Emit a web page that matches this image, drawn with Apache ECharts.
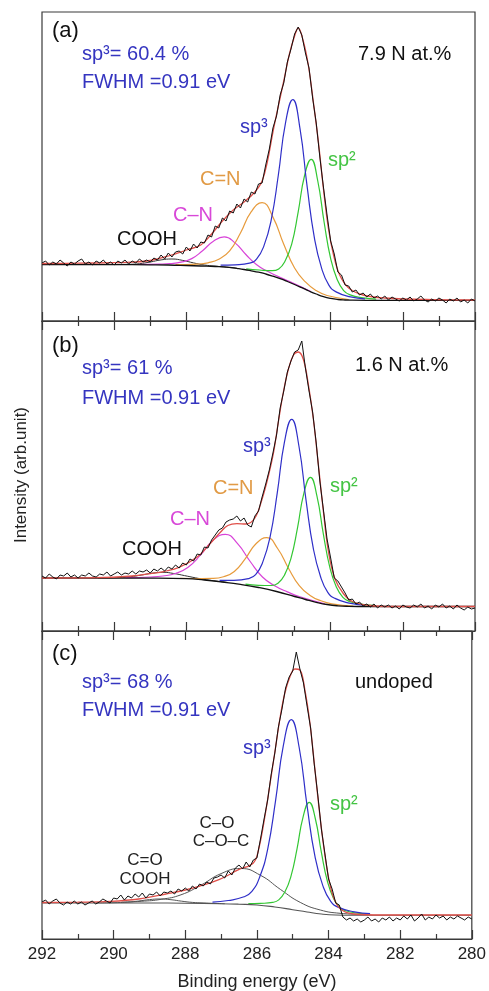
<!DOCTYPE html>
<html>
<head>
<meta charset="utf-8">
<script src="https://cdn.jsdelivr.net/npm/echarts@6/dist/echarts.min.js"></script>
<style>
html,body{margin:0;padding:0;background:#fff;}
#chart{width:489px;height:991px;}
</style>
</head>
<body>
<div id="chart"></div>
<script>
// ---------- Shared axis ----------
const xMin = 280, xMax = 292, xMajor = 2;
const xTickLabels = ['292','290','288','286','284','282','280'];
const rawStartE = 292, rawStepE = 0.1;   // raw spectra sampled every 0.1 eV from 292 eV down to 280 eV

// ---------- Panel (a): 7.9 N at.% ----------
const rawA = [58,60,56,59,57,61,58,55,59,57, 60,62,57,59,56,60,58,61,57,59, 56,60,58,61,57,60,58,62,59,61,
  59,63,61,66,62,68,64,69,70,67, 74,70,77,73,79,78,86,84,95,93, 103,100,110,108,117,113,122,119,129,127,
  137,138,156,172,193,205,226,238,259,272, 287,294,286,268,253,223,198,164,134,106, 80,67,49,46,36,35,29,31,26,28,
  24,27,23,25,22,25,21,24,22,20, 23,21,24,20,22,25,21,19,22,20, 23,21,18,22,20,23,19,21,18,22, 20];
const envA = [[292,57.5],[291,57.8],[290,58.3],[289.5,58.8],[289,60.5],[288.5,65],[288,71],[287.6,76],[287.3,87],[287,100],[286.7,111],[286.4,119],[286.1,129],[285.9,140],[285.75,160],[285.6,189],[285.45,215],[285.3,240],[285.15,266],[285,285],[284.9,293],[284.76,280],[284.62,256],[284.48,219],[284.34,179],[284.2,132],[284.06,92],[283.92,66],[283.75,46],[283.5,33],[283.1,26],[282.5,23],[281,21.3],[280,21]];
const bgA = [[292,56.5],[290,56.4],[289,56.2],[288.5,56],[288,55.5],[287.6,55],[287.2,54.5],[286.8,53.6],[286.6,52.6],[286.4,51.5],[286.2,50.2],[286,48.8],[285.8,47],[285.6,44.8],[285.4,42.3],[285.2,39.5],[285,36.5],[284.8,33.3],[284.6,30],[284.4,27],[284.2,24.4],[284,22.6],[283.8,21.5],[283.6,21],[283.4,20.8],[283,20.7],[280,20.7]];
const sp3A = [[287.05,55.8],[286.65,56.2],[286.25,57.9],[286.05,62.1],[285.85,75.1],[285.65,100.6],[285.45,146],[285.25,198.4],[285.05,221.3],[284.85,192.3],[284.65,133.8],[284.45,82.9],[284.25,52.6],[284.05,35.9],[283.85,29.1],[283.45,24.1],[283.05,22.2]];
const sp2A = [[286.34,52.2],[285.98,51],[285.62,50.3],[285.44,52.1],[285.26,60.2],[285.08,76.8],[284.9,109.2],[284.72,146],[284.54,161.7],[284.36,140.5],[284.18,98.5],[284,62.4],[283.82,41.5],[283.64,30.4],[283.46,26.1],[283.1,23.1],[282.74,21.8]];
const cDoubleNA = [[288.3,56.4],[287.7,56.9],[287.4,58.2],[287.1,61.8],[286.8,70.1],[286.5,88],[286.2,109.3],[285.9,118.3],[285.6,103.9],[285.3,76.8],[285,53],[284.7,39.1],[284.4,30.4],[284.1,25.5],[283.5,21.5]];
const cSingleNA = [[289.35,56.5],[288.75,56.9],[288.45,57.4],[288.15,58.8],[287.85,62.4],[287.55,70.3],[287.25,79.8],[286.95,84.1],[286.65,78.1],[286.35,66.5],[286.05,56.3],[285.75,49.7],[285.45,44.4],[285.15,39.6],[284.55,29.5]];
const coohA = [[290.2,56.5],[289.6,56.7],[289.3,57.3],[289,59],[288.7,61.1],[288.4,62],[288.1,60.6],[287.8,58.1],[287.5,56],[287.2,54.9],[286.6,52.7]];

// ---------- Panel (b): 1.6 N at.% ----------
const rawB = [55,53,57,54,52,56,55,58,54,56, 53,56,55,58,55,54,57,56,59,55, 57,59,56,58,57,60,57,60,59,61,
  58,62,60,63,60,64,62,66,63,68, 66,72,70,77,76,84,83,91,96,101, 103,109,111,112,115,110,113,106,104,115,
  120,134,147,161,178,196,223,240,259,270, 279,281,290,263,240,219,188,150,121,92, 73,53,50,44,38,31,32,27,29,25,
  27,24,27,23,26,24,26,23,25,22, 26,24,23,26,24,27,23,25,22,26, 24,27,23,25,22,26,23,21,24,22, 23];
const envB = [[292,53],[290.5,53.3],[289.5,55],[289,57.4],[288.6,59.7],[288.2,63.7],[287.7,74],[287.35,87],[287.05,99],[286.85,105.5],[286.6,107.4],[286.35,107],[286.1,113],[285.9,132],[285.72,156],[285.58,179],[285.45,209],[285.31,239],[285.17,262],[285.03,276],[284.9,279],[284.76,272],[284.62,247],[284.48,212],[284.34,166],[284.2,119],[284.06,79],[283.88,52],[283.65,37.5],[283.4,29.5],[282.9,25.5],[282.3,24.5],[280,24.5]];
const bgB = [[292,53],[289,52.8],[288,52.4],[287.5,51],[287,49],[286.5,46.6],[286,43.5],[285.5,39.5],[285,34.5],[284.7,31.5],[284.4,28.7],[284.1,26.5],[283.8,25.2],[283.5,24.7],[283,24.5],[280,24.5]];
const sp3B = [[287.08,50.7],[286.68,50.7],[286.28,52.4],[286.08,56.3],[285.88,69.1],[285.68,93.9],[285.48,138.1],[285.28,189.1],[285.08,211.7],[284.88,185],[284.68,130.1],[284.48,82.3],[284.28,54.3],[284.08,38.7],[283.88,32.6],[283.48,27.9],[283.08,25.9]];
const sp2B = [[286.36,46.8],[286,45.7],[285.64,45.5],[285.46,47.8],[285.28,55.9],[285.1,72.6],[284.92,102.9],[284.74,138.2],[284.56,153.7],[284.38,134.9],[284.2,96.4],[284.02,63.2],[283.84,43.8],[283.66,33.6],[283.48,29.6],[283.12,26.7],[282.76,25.5]];
const cDoubleNB = [[288.17,52.7],[287.57,52.5],[287.27,52.6],[286.97,54.3],[286.67,59.5],[286.37,72.1],[286.07,87.2],[285.77,93.4],[285.47,82.5],[285.17,62.8],[284.87,45.3],[284.57,35.6],[284.27,30.2],[283.97,27.2],[283.37,25]];
const cSingleNB = [[289.68,53.3],[288.99,54],[288.65,55],[288.3,57.5],[287.96,63.6],[287.61,75.8],[287.27,90.4],[286.92,96.7],[286.58,87.3],[286.23,69.5],[285.89,54],[285.54,45],[285.2,39.1],[284.85,34.2],[284.16,27.2]];
const coohB = [[290.45,53.1],[290.15,53.2],[289.85,53.5],[289.55,54.3],[289.25,55.9],[288.95,57.8],[288.65,58.7],[288.35,57.5],[288.05,55.4],[287.75,53.2],[287.45,51.3],[287.15,49.9],[286.85,48.5]];

// ---------- Panel (c): undoped ----------
const rawC = [37,39,35,38,40,36,34,37,35,38, 35,37,34,36,38,35,37,40,38,36, 41,40,44,39,43,41,45,42,46,41,
  45,44,47,43,47,46,48,45,50,48, 51,48,53,50,55,53,57,55,61,62, 64,61,68,64,71,74,70,77,72,79,
  81,100,120,139,165,186,212,230,251,262, 268,287,270,256,233,211,175,144,110,85, 60,50,36,34,22,19,21,18,20,17,
  19,22,18,20,17,21,19,22,18,21, 19,23,20,24,18,21,25,19,22,20, 24,21,23,19,22,20,23,21,19,22, 20];
const envC = [[292,36.5],[291,36.8],[290.1,37.6],[289.3,40],[288.54,45],[288,49],[287.62,52.6],[287.06,59.3],[286.51,69.3],[286.1,76],[285.95,90],[285.77,124],[285.63,156],[285.49,189],[285.35,222],[285.22,246],[285.08,262],[284.94,270],[284.8,269],[284.66,249],[284.52,216],[284.39,173],[284.25,126],[284.11,86],[283.97,56],[283.83,39],[283.65,29.5],[283.3,25],[282.5,24],[280,24]];
const bgC = [[292,36],[289,36],[288,35.8],[287,35.3],[286.5,34.8],[286,34],[285.5,32],[285,29.3],[284.6,27],[284.2,25],[283.8,24],[283.4,23.8],[280,23.8]];
const sp3C = [[287.24,36.9],[286.8,38.5],[286.36,42.2],[286.14,47.6],[285.92,62.2],[285.7,89.7],[285.48,138.2],[285.26,193.9],[285.04,219.3],[284.82,191.5],[284.6,133.3],[284.38,82.8],[284.16,53.4],[283.94,37.6],[283.72,31.6],[283.28,27.2],[282.84,25.3]];
const sp2C = [[286.24,35.3],[285.9,35.6],[285.56,36.6],[285.39,39.1],[285.22,47],[285.05,62.6],[284.88,90.2],[284.71,122.2],[284.54,136.7],[284.37,120.5],[284.2,86.6],[284.03,57.5],[283.86,40.6],[283.69,31.7],[283.52,28.3],[283.18,25.8],[282.84,24.7]];
const cOC = [[289.78,36.9],[289.23,37.7],[288.67,39.7],[288.12,44.2],[287.56,53.9],[287,65.4],[286.45,70.5],[285.9,63.7],[285.34,49.5],[284.79,36.6],[284.23,29],[283.68,25.7],[283.12,24.7]];
const coohC = [[290.5,36.1],[290.2,36.2],[289.9,36.4],[289.6,36.9],[289.3,38],[289,39.4],[288.7,40],[288.4,39.3],[288.1,37.8],[287.8,36.6],[287.5,36],[287.2,35.6],[286.9,35.3]];

// ---------- Text ----------
const statA = ['sp³= 60.4 %', 'FWHM =0.91 eV', '7.9 N at.%'];
const statB = ['sp³= 61 %', 'FWHM =0.91 eV', '1.6 N at.%'];
const statC = ['sp³= 68 %', 'FWHM =0.91 eV', 'undoped'];

// ---------- Layout ----------
const W = 489;
const plotLeft = 42, plotRight = 14;
const panels = [{top: 12, h: 309}, {top: 321, h: 310}, {top: 631, h: 308}];
const FONT = '"Liberation Sans", Arial, sans-serif';
const AX = '#3a3a3a';

const COL = {
  raw: '#111111', env: '#e0504a', bg: '#111111',
  sp3: '#2f2fc8', sp2: '#33c733', cdn: '#e79b3c', csn: '#d843d8', cooh: '#333333', co: '#555555',
  txtBlue: '#3535c0', txtGreen: '#44c444', txtOrange: '#e19a45', txtMag: '#d848d8'
};

function toPairs(raw) {
  return raw.map((v, i) => [+(rawStartE - i * rawStepE).toFixed(1), v]);
}

const grids = panels.map(p => ({
  left: plotLeft, right: plotRight, top: p.top, height: p.h,
  show: true, borderColor: AX, borderWidth: 1.2, backgroundColor: 'transparent'
}));

function xAx(gi, pos, labels) {
  return {
    type: 'value', gridIndex: gi, position: pos, min: xMin, max: xMax, interval: xMajor, inverse: true,
    axisLine: {show: true, onZero: false, lineStyle: {color: AX, width: 1.2}},
    axisTick: {show: true, inside: true, length: 9, lineStyle: {color: AX, width: 1.2}},
    minorTick: {show: true, splitNumber: 2, length: 5, lineStyle: {color: AX, width: 1.2}},
    splitLine: {show: false}, minorSplitLine: {show: false},
    axisLabel: {show: labels, fontSize: 17, color: '#222', fontFamily: FONT, margin: 7,
      showMinLabel: true, showMaxLabel: true,
      formatter: v => xTickLabels.find(t => +t === v) || ''}
  };
}

const xAxes = [
  xAx(0, 'bottom', false),
  xAx(1, 'bottom', false),
  xAx(1, 'top', false),
  xAx(2, 'bottom', true),
  xAx(2, 'top', false)
];
const yAxes = panels.map((p, i) => ({type: 'value', gridIndex: i, min: 0, max: p.h, show: false}));

function ln(data, xi, yi, color, width, smooth, z) {
  return {type: 'line', data, xAxisIndex: xi, yAxisIndex: yi, showSymbol: false, symbol: 'none',
    smooth, lineStyle: {color, width}, z, silent: true, animation: false, clip: true};
}

const series = [
  // (a)
  ln(coohA, 0, 0, COL.cooh, 1, true, 2),
  ln(cSingleNA, 0, 0, COL.csn, 1.2, true, 2),
  ln(cDoubleNA, 0, 0, COL.cdn, 1.2, true, 2),
  ln(sp2A, 0, 0, COL.sp2, 1.2, true, 2),
  ln(sp3A, 0, 0, COL.sp3, 1.2, true, 2),
  ln(bgA, 0, 0, COL.bg, 1.3, true, 3),
  ln(envA, 0, 0, COL.env, 1.3, 0.4, 4),
  ln(toPairs(rawA), 0, 0, COL.raw, 1, false, 5),
  // (b)
  ln(coohB, 1, 1, COL.cooh, 1, true, 2),
  ln(cSingleNB, 1, 1, COL.csn, 1.2, true, 2),
  ln(cDoubleNB, 1, 1, COL.cdn, 1.2, true, 2),
  ln(sp2B, 1, 1, COL.sp2, 1.2, true, 2),
  ln(sp3B, 1, 1, COL.sp3, 1.2, true, 2),
  ln(bgB, 1, 1, COL.bg, 1.3, true, 3),
  ln(envB, 1, 1, COL.env, 1.3, 0.4, 4),
  ln(toPairs(rawB), 1, 1, COL.raw, 1, false, 5),
  // (c)
  ln(coohC, 3, 2, COL.co, 1, true, 2),
  ln(cOC, 3, 2, COL.co, 1, true, 2),
  ln(sp2C, 3, 2, COL.sp2, 1.2, true, 2),
  ln(sp3C, 3, 2, COL.sp3, 1.2, true, 2),
  ln(bgC, 3, 2, COL.co, 1.1, true, 3),
  ln(envC, 3, 2, COL.env, 1.3, 0.4, 4),
  ln(toPairs(rawC), 3, 2, COL.raw, 1, false, 5)
];

function txt(text, x, y, color, size, align, rot) {
  const el = {type: 'text', x, y, z: 100, silent: true,
    style: {text, fill: color, font: size + 'px ' + FONT, fontSize: size, fontFamily: FONT,
      textAlign: align || 'left', align: align || 'left', textVerticalAlign: 'middle', verticalAlign: 'middle'}};
  if (rot) el.rotation = rot;
  return el;
}

const texts = [
  // (a)
  txt('(a)', 52, 31, '#111', 22),
  txt(statA[0], 82, 54, COL.txtBlue, 20),
  txt(statA[1], 82, 82, COL.txtBlue, 20),
  txt(statA[2], 358, 54, '#111', 20),
  txt('sp³', 240, 127, COL.txtBlue, 20),
  txt('sp²', 328, 160, COL.txtGreen, 20),
  txt('C=N', 200, 179, COL.txtOrange, 20),
  txt('C–N', 173, 215, COL.txtMag, 20),
  txt('COOH', 117, 239, '#111', 20),
  // (b)
  txt('(b)', 52, 346, '#111', 22),
  txt(statB[0], 82, 368, COL.txtBlue, 20),
  txt(statB[1], 82, 398, COL.txtBlue, 20),
  txt(statB[2], 355, 365, '#111', 20),
  txt('sp³', 243, 446, COL.txtBlue, 20),
  txt('sp²', 330, 486, COL.txtGreen, 20),
  txt('C=N', 213, 488, COL.txtOrange, 20),
  txt('C–N', 170, 519, COL.txtMag, 20),
  txt('COOH', 122, 549, '#111', 20),
  // (c)
  txt('(c)', 52, 654, '#111', 22),
  txt(statC[0], 82, 682, COL.txtBlue, 20),
  txt(statC[1], 82, 710, COL.txtBlue, 20),
  txt(statC[2], 355, 682, '#111', 20),
  txt('sp³', 243, 748, COL.txtBlue, 20),
  txt('sp²', 330, 804, COL.txtGreen, 20),
  txt('C–O', 217, 823, '#222', 17, 'center'),
  txt('C–O–C', 221, 841, '#222', 17, 'center'),
  txt('C=O', 145, 860, '#222', 17, 'center'),
  txt('COOH', 145, 879, '#222', 17, 'center'),
  // axis titles
  txt('Binding energy (eV)', 257, 982, '#222', 18, 'center'),
  txt('Intensity (arb.unit)', 21, 475, '#222', 17, 'center', Math.PI / 2)
];

const chart = echarts.init(document.getElementById('chart'), null, {renderer: 'canvas'});
chart.setOption({
  animation: false,
  backgroundColor: '#ffffff',
  grid: grids,
  xAxis: xAxes,
  yAxis: yAxes,
  series,
  graphic: {elements: texts}
});
</script>
</body>
</html>
